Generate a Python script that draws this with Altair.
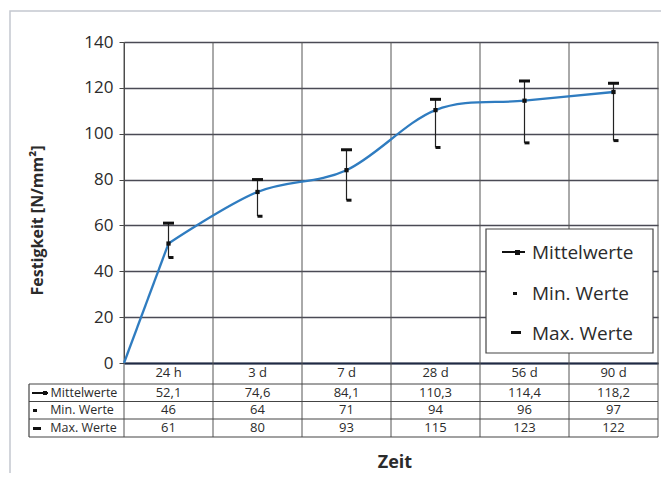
import altair as alt
import pandas as pd

categories = ["24 h", "3 d", "7 d", "28 d", "56 d", "90 d"]
means = [52.1, 74.6, 84.1, 110.3, 114.4, 118.2]
mins = [46, 64, 71, 94, 96, 97]
maxs = [61, 80, 93, 115, 123, 122]
series_names = ["Mittelwerte", "Min. Werte", "Max. Werte"]
y_ticks = [0, 20, 40, 60, 80, 100, 120, 140]

FONT = "Open Sans"
TXT = "#2b2b2b"
GRID = "#4a4a55"

def de(v):
    return str(v).replace(".", ",")

pos = [i + 0.5 for i in range(len(categories))]
df = pd.DataFrame({
    "cat": categories, "pos": pos, "mean": means, "min": mins, "max": maxs,
    "mean_s": [de(v) for v in means], "min_s": [de(v) for v in mins], "max_s": [de(v) for v in maxs],
})
# start segment from the origin to the first mean, then a smoothed curve
start_df = pd.DataFrame({"pos": [0.0, pos[0]], "value": [0.0, means[0]]})
curve_df = pd.DataFrame({"pos": pos, "value": means})
bounds_df = pd.DataFrame({"b": list(range(len(categories) + 1))})
one = pd.DataFrame({"k": [0]})

xs = alt.Scale(domain=[0, len(categories)], nice=False, zero=False)
ys = alt.Scale(domain=[0, 140], nice=False)

x_axis = alt.Axis(labels=False, ticks=False, grid=False, domainColor="#1f2a44",
                  domainWidth=2, title=None)
y_axis = alt.Axis(values=y_ticks, labelFont=FONT, labelFontSize=17, labelColor=TXT,
                  tickSize=5, tickColor="#444", labelPadding=6, domainColor="#444",
                  gridColor=GRID, gridWidth=1.3,
                  title="Festigkeit [N/mm²]", titleFont=FONT, titleFontSize=16,
                  titleFontWeight="bold", titleColor=TXT, titleAngle=270,
                  titleAlign="center", titleBaseline="middle", titleX=-87, titleY=178)

vgrid = alt.Chart(bounds_df).mark_rule(color="#555", strokeWidth=1).encode(
    x=alt.X("b:Q", scale=xs, axis=x_axis), y=alt.value(0), y2=alt.value(395))

line_style = dict(color="#2f7cc0", strokeWidth=2.3)
start_line = alt.Chart(start_df).mark_line(**line_style).encode(
    x=alt.X("pos:Q", scale=xs), y=alt.Y("value:Q", scale=ys, axis=y_axis))
curve = alt.Chart(curve_df).mark_line(interpolate="cardinal", **line_style).encode(
    x=alt.X("pos:Q", scale=xs), y=alt.Y("value:Q", scale=ys))

err = alt.Chart(df).mark_rule(color="#222", strokeWidth=1.2).encode(
    x=alt.X("pos:Q", scale=xs), y=alt.Y("min:Q", scale=ys), y2="max:Q")
maxcap = alt.Chart(df).mark_tick(orient="horizontal", color="#111", size=11,
                                 thickness=3, opacity=1).encode(
    x=alt.X("pos:Q", scale=xs), y=alt.Y("max:Q", scale=ys))
mincap = alt.Chart(df).mark_tick(orient="horizontal", color="#111", size=5,
                                 thickness=3, opacity=1, xOffset=2.5).encode(
    x=alt.X("pos:Q", scale=xs), y=alt.Y("min:Q", scale=ys))
meanpt = alt.Chart(df).mark_square(color="#111", size=18, opacity=1).encode(
    x=alt.X("pos:Q", scale=xs), y=alt.Y("mean:Q", scale=ys))

def rect(x1, x2, y1, y2, **kw):
    return alt.Chart(one).mark_rect(**kw).encode(
        x=alt.value(x1), x2=alt.value(x2), y=alt.value(y1), y2=alt.value(y2))

def hrule(y, x1, x2, **kw):
    return alt.Chart(one).mark_rule(**kw).encode(
        x=alt.value(x1), x2=alt.value(x2), y=alt.value(y))

def vrule(x, y1, y2, **kw):
    return alt.Chart(one).mark_rule(**kw).encode(
        x=alt.value(x), y=alt.value(y1), y2=alt.value(y2))

def label(text, x, y, size=17, align="left", weight="normal"):
    return alt.Chart(one).mark_text(text=text, font=FONT, fontSize=size, color=TXT,
                                    align=align, baseline="middle",
                                    fontWeight=weight).encode(
        x=alt.value(x), y=alt.value(y))

legend = [
    rect(362, 529, 187, 311, fill="white", stroke="#444", strokeWidth=1.2),
    hrule(210, 378, 401, color="#111", strokeWidth=2),
    rect(391, 396, 208, 213, fill="#111"),
    rect(389, 393, 250, 253, fill="#111"),
    rect(387, 397, 289, 292, fill="#111"),
    label(series_names[0], 408, 211, size=19),
    label(series_names[1], 408, 252, size=19),
    label(series_names[2], 408, 292, size=19),
]

tbl_lines = [
    hrule(342, -95, 534, color="#444", strokeWidth=1),
    hrule(359.5, -95, 534, color="#444", strokeWidth=1),
    hrule(377, -95, 534, color="#444", strokeWidth=1),
    hrule(395, -95, 534, color="#444", strokeWidth=1.2),
    vrule(-95, 342, 395, color="#444", strokeWidth=1.2),
    hrule(351, -92, -76, color="#111", strokeWidth=2),
    rect(-81, -77, 349, 353, fill="#111"),
    rect(-91, -87, 367, 370, fill="#111"),
    rect(-91, -83, 385, 388, fill="#111"),
    label(series_names[0], -40, 351, size=12.5, align="center"),
    label(series_names[1], -42, 368, size=12.5, align="center"),
    label(series_names[2], -40.5, 386, size=12.5, align="center"),
]

def row(field, y):
    return alt.Chart(df).mark_text(font=FONT, fontSize=13, color=TXT,
                                   baseline="middle").encode(
        x=alt.X("pos:Q", scale=xs), y=alt.value(y), text=f"{field}:N")

rows = [row("cat", 331), row("mean_s", 351), row("min_s", 368), row("max_s", 386)]

frame = rect(-114, 560, -31, 440, fill="transparent", stroke="#c4c8d0", strokeWidth=1.5)
zeit = label("Zeit", 271, 421, size=18, align="center", weight="bold")

chart = alt.layer(
    frame, vgrid, start_line, curve, err, maxcap, mincap, meanpt,
    *legend, *tbl_lines, *rows, zeit
).properties(
    width=534, height=321,
    padding={"left": 116, "top": 34, "right": 3, "bottom": 110},
    autosize=alt.AutoSizeParams(type="none"),
    background="white",
).configure_view(strokeWidth=0)

chart.save("out.html", embed_options={"renderer": "svg", "actions": False})
